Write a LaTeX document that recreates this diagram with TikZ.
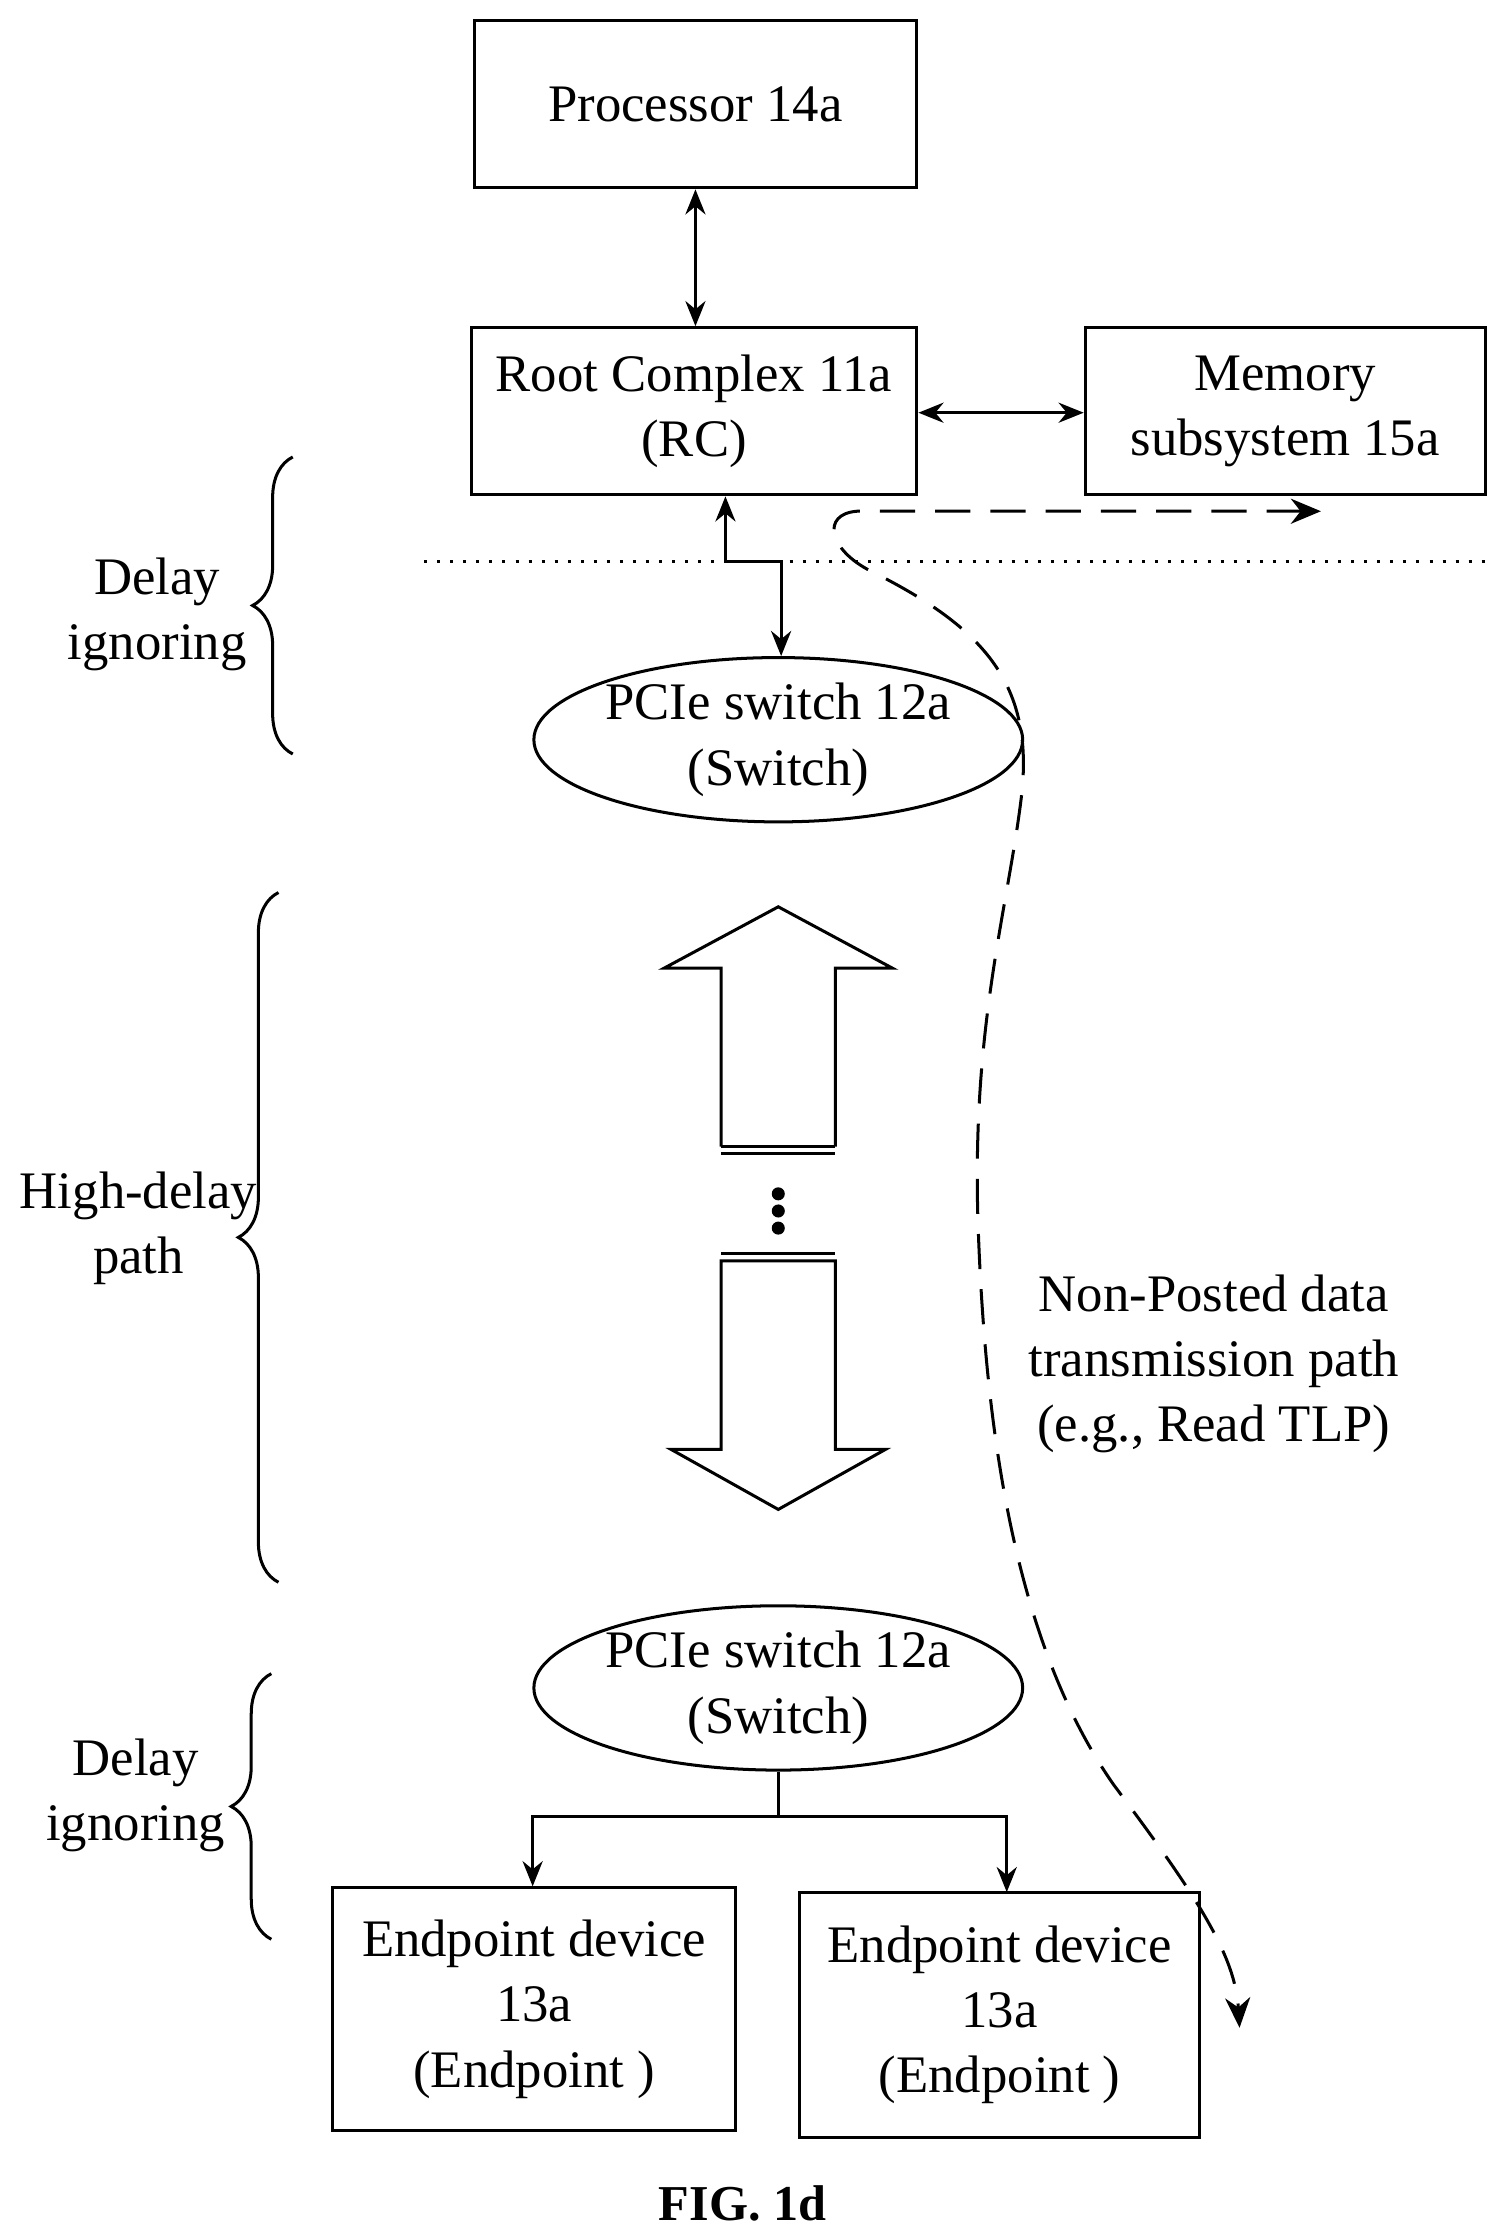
\documentclass[tikz,border=0pt]{standalone}
\usepackage{fontspec}
\setmainfont{Liberation Serif}
\usetikzlibrary{shapes.geometric,arrows.meta,decorations.pathreplacing}
\begin{document}
\begin{tikzpicture}[x=0.01cm,y=-0.01cm,
  font=\fontsize{10.5}{13}\selectfont,
  box/.style={draw,line width=0.6pt,align=center,inner sep=0pt},
  ell/.style={draw,ellipse,line width=0.6pt,align=center,inner sep=0pt,minimum width=3.1cm,minimum height=1.15cm},
  ln/.style={line width=0.6pt},
  arr/.style={ln,-{Stealth[length=5pt,width=4pt]}},
  darr/.style={ln,{Stealth[length=5pt,width=4pt]}-{Stealth[length=5pt,width=4pt]}},
  brace/.style={ln,decorate,decoration={brace,amplitude=8pt}}]
\useasboundingbox (0,0) rectangle (1050,1563);
\node[box,minimum width=3.09cm,minimum height=1.17cm] (proc) at (487,73) {Processor 14a};
\node[box,minimum width=3.12cm,minimum height=1.17cm] (rc) at (486,288) {Root Complex 11a\\(RC)};
\node[box,minimum width=2.8cm,minimum height=1.17cm] (mem) at (900,288) {Memory\\subsystem 15a};
\draw[darr] (proc) -- (proc|-rc.north);
\draw[darr] (rc.east|-0,289) -- (mem.west|-0,289);
\coordinate (dl) at (297,393); \coordinate (dr) at (1040,393);
\draw[ln,dotted] (dl) -- (dr);
\node[ell] (sw1) at (545,518) {PCIe switch 12a\\(Switch)};
\coordinate (c1) at (508,393); \coordinate (c2) at (547,393);
\draw[arr] (c1) -- (rc.south-|c1);
\draw[arr] (c1) -- (c2) -- (sw1.north-|c2);
% hollow arrows
\draw[ln] (505,803) -- (505,678) -- (465,678) -- (545,635) -- (625,678) -- (585,678) -- (585,803);
\draw[ln] (505,803) -- (585,803); \draw[ln] (505,808) -- (585,808);
\foreach \yy [count=\i] in {836,848,860} \fill (545,\yy) circle (1.3pt) coordinate (dot\i);
\draw[ln] (505,878) -- (585,878); \draw[ln] (505,883) -- (505,1015) -- (470,1015) -- (545,1057) -- (620,1015) -- (585,1015) -- (585,883) -- cycle;
\node[ell] (sw2) at (545,1182) {PCIe switch 12a\\(Switch)};
\node[box,minimum width=2.82cm,minimum height=1.7cm] (ep1) at (374,1407) {Endpoint device\\13a\\(Endpoint )};
\node[box,minimum width=2.8cm,minimum height=1.72cm] (ep2) at (700,1411) {Endpoint device\\13a\\(Endpoint )};
\coordinate (j) at (545,1272);
\draw[ln] (sw2.south) -- (j);
\draw[arr] (j) -- (373,1272) -- (ep1.north-|373,0);
\draw[arr] (j) -- (705,1272) -- (705,1325);
% braces
\draw[brace] (205,528) -- (205,320);
\node[align=center] (b1) at (110,430) {Delay\\ignoring};
\draw[brace] (195,1108) -- (195,625);
\node[align=center] (b2) at (97,860) {High-delay\\path};
\draw[brace] (190,1358) -- (190,1172);
\node[align=center] (b3) at (95,1257) {Delay\\ignoring};
% dashed path
\coordinate (ta) at (925,358); \coordinate (ba) at (868,1420);
\draw[ln,dashed,dash pattern=on 7pt off 4pt,{Stealth[length=6pt,width=5pt]}-{Stealth[length=6pt,width=5pt]}] (ta) -- (600,358) .. controls (575,360) and (580,385) .. (610,400) .. controls (690,440) and (725,480) .. (715,560) .. controls (705,640) and (680,720) .. (685,860) .. controls (690,1000) and (710,1150) .. (780,1250) .. controls (840,1330) and (865,1370) .. (ba);
\node[align=center] (np) at (850,955) {Non-Posted data\\transmission path\\(e.g., Read TLP)};
\node[font=\fontsize{10}{12}\selectfont\bfseries] (fig) at (520,1543) {FIG. 1d};
\end{tikzpicture}
\end{document}
